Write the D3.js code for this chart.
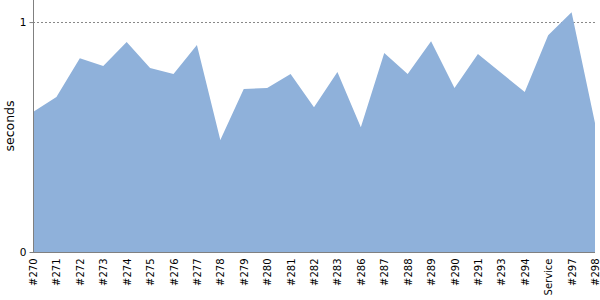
<!DOCTYPE html>
<html>
<head>
<meta charset="utf-8">
<script src="https://cdn.jsdelivr.net/npm/d3@7"></script>
<style>
  body { margin: 0; background: #fff; }
  text { font-family: "DejaVu Sans", sans-serif; }
</style>
</head>
<body>
<script>
let width = 600, height = 300;

// builds on the x axis
let builds = ["#270", "#271", "#272", "#273", "#274", "#275", "#276", "#277", "#278", "#279",
    "#280", "#281", "#282", "#283", "#286", "#287", "#288", "#289", "#290", "#291",
    "#293", "#294", "Service", "#297", "#298"];
// duration of each build, in seconds
let durations = [0.609, 0.674, 0.843, 0.809, 0.913, 0.800, 0.774, 0.900, 0.487, 0.709,
    0.713, 0.774, 0.630, 0.783, 0.543, 0.865, 0.774, 0.917, 0.713, 0.861,
    0.778, 0.696, 0.943, 1.043, 0.561];
let yTicks = [0, 1];

let data = builds.map((b, i) => ({build: b, value: durations[i]}));

let plotLeft = 33, plotRight = 595, plotTop = 0, plotBottom = 252;

let svg = d3.select("body").append("svg")
    .attr("width", width)
    .attr("height", height);

let x = d3.scalePoint()
    .domain(builds)
    .range([plotLeft, plotRight]);

let y = d3.scaleLinear()
    .domain([0, 1.096])
    .range([plotBottom, plotTop]);

// gridline at 1
svg.selectAll("line.grid").data(yTicks.filter(d => d > 0))
    .enter().append("line")
    .attr("class", "grid")
    .attr("x1", plotLeft).attr("x2", plotRight)
    .attr("y1", d => Math.round(y(d)) + 0.5).attr("y2", d => Math.round(y(d)) + 0.5)
    .attr("stroke", "#888")
    .attr("stroke-dasharray", "2,2");

let area = d3.area()
    .x(d => x(d.build))
    .y0(y(0))
    .y1(d => y(d.value));

svg.append("path")
    .datum(data)
    .attr("d", area)
    .attr("fill", "#8fb1da");

// y axis
let yAxis = svg.append("g")
    .attr("transform", "translate(" + (plotLeft + 0.5) + ",0)")
    .call(d3.axisLeft(y).tickValues(yTicks).tickSize(4).tickPadding(3).tickFormat(d3.format("d")));
yAxis.select(".domain")
    .attr("d", "M0," + plotTop + "V" + plotBottom)
    .attr("stroke", "#808080");
yAxis.selectAll(".tick line").attr("stroke", "#808080");
yAxis.selectAll(".tick text")
    .attr("font-size", 10.5)
    .attr("fill", "#000")
    .style("font-family", "DejaVu Sans, sans-serif");

// x axis
let xAxis = svg.append("g")
    .attr("transform", "translate(0," + (plotBottom + 0.5) + ")")
    .call(d3.axisBottom(x).tickSize(0).tickPadding(0));
xAxis.select(".domain")
    .attr("d", "M" + plotLeft + ",0H" + plotRight)
    .attr("stroke", "#808080");
xAxis.selectAll(".tick text")
    .attr("font-size", 10)
    .attr("fill", "#000")
    .style("font-family", "DejaVu Sans, sans-serif")
    .attr("text-anchor", "end")
    .attr("dy", "0.35em")
    .attr("transform", "translate(0,6) rotate(-90)")
    .attr("x", 0)
    .attr("y", 0);

// axis title
svg.append("text")
    .attr("transform", "translate(14,126) rotate(-90)")
    .attr("text-anchor", "middle")
    .attr("font-size", 12.5)
    .text("seconds");
</script>
</body>
</html>
